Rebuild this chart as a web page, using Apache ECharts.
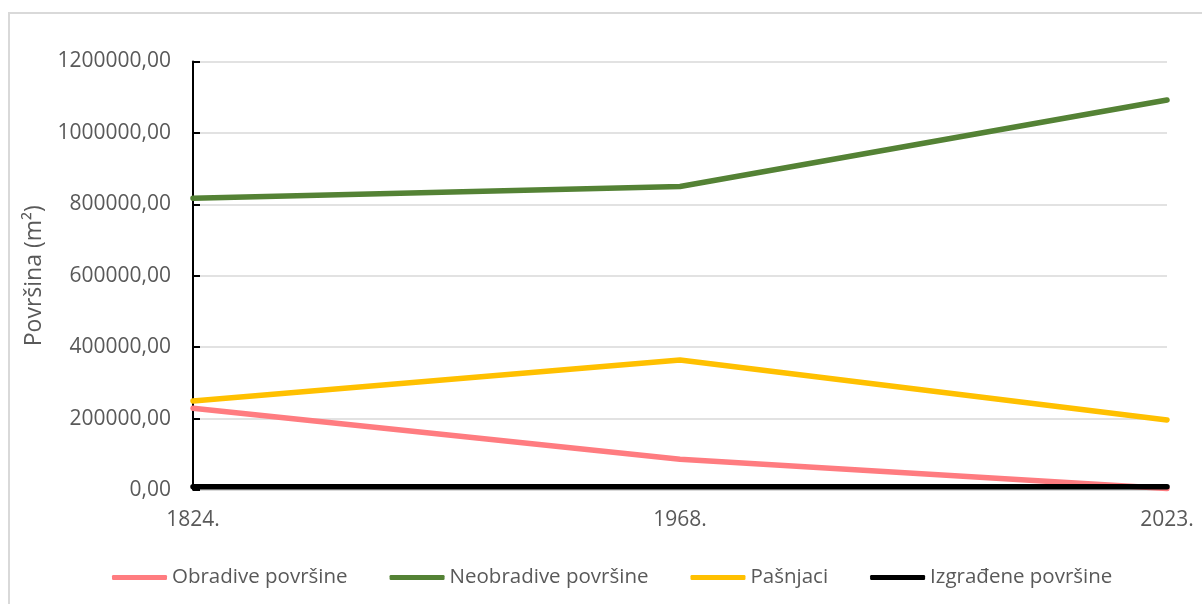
<!DOCTYPE html>
<html>
<head>
<meta charset="utf-8">
<script src="https://cdn.jsdelivr.net/npm/echarts@6/dist/echarts.min.js"></script>
<style>
html,body{margin:0;padding:0;background:#fff;}
#chart{width:1202px;height:604px;}
</style>
</head>
<body>
<div id="chart"></div>
<script>
const categories = ['1824.', '1968.', '2023.'];
const obradive = [229000, 86000, 4000];
const neobradive = [817000, 850000, 1092000];
const pasnjaci = [249000, 364000, 196000];
const izgradjene = [9000, 9000, 9000];
const seriesNames = ['Obradive površine', 'Neobradive površine', 'Pašnjaci', 'Izgrađene površine'];
const seriesColors = ['#FF7C80', '#548235', '#FFC000', '#000000'];
const seriesData = [obradive, neobradive, pasnjaci, izgradjene];

const chart = echarts.init(document.getElementById('chart'));
const font = 'Open Sans';
chart.setOption({
  animation: false,
  backgroundColor: '#fff',
  graphic: [{
    type: 'rect', silent: true, z: -10,
    shape: {x: 9, y: 13, width: 1300, height: 700},
    style: {fill: 'none', stroke: '#D9D9D9', lineWidth: 2}
  }],
  grid: {left: 193, right: 35, top: 61.5, bottom: 114, containLabel: false},
  legend: {
    left: 107, top: 562,
    itemWidth: 55, itemHeight: 5, itemGap: 42,
    icon: 'roundRect',
    textStyle: {fontFamily: font, fontSize: 20.5, color: '#595959'},
    data: seriesNames
  },
  xAxis: {
    type: 'category',
    data: categories,
    boundaryGap: false,
    axisLine: {show: true, lineStyle: {color: '#D9D9D9', width: 1}},
    axisTick: {show: false},
    axisLabel: {fontFamily: font, fontSize: 21, color: '#595959', margin: 20},
    splitLine: {show: false}
  },
  yAxis: {
    type: 'value',
    min: 0, max: 1200000, interval: 200000,
    name: 'Površina (m²)',
    nameLocation: 'middle',
    nameGap: 147,
    nameRotate: 90,
    nameTextStyle: {fontFamily: font, fontSize: 23, color: '#595959'},
    axisLine: {show: true, lineStyle: {color: '#000', width: 2}},
    axisTick: {show: true, inside: true, length: 7, lineStyle: {color: '#000', width: 2}},
    axisLabel: {
      fontFamily: font, fontSize: 21, color: '#595959', margin: 22,
      formatter: v => v.toFixed(2).replace('.', ',')
    },
    splitLine: {show: true, lineStyle: {color: '#D9D9D9', width: 1.5}}
  },
  series: seriesData.map((d, i) => ({
    name: seriesNames[i],
    type: 'line',
    data: d,
    symbol: 'none',
    color: seriesColors[i],
    lineStyle: {width: 5.5, color: seriesColors[i], cap: 'round', join: 'round'},
    z: 2 + i
  }))
});
</script>
</body>
</html>
